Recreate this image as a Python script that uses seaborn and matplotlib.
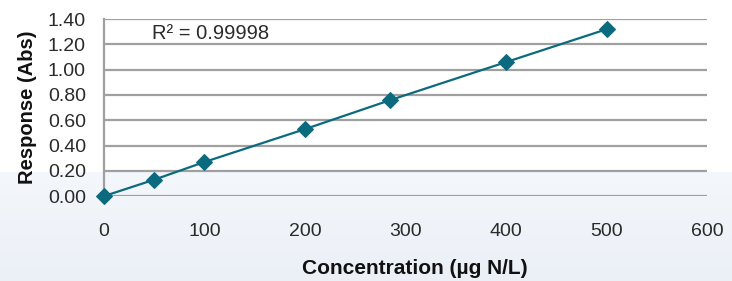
import matplotlib
matplotlib.use("Agg")
import matplotlib.pyplot as plt
import seaborn as sns
import pandas as pd
import numpy as np
from matplotlib.colors import LinearSegmentedColormap

concentration = [0, 50, 100, 200, 285, 400, 500]
response = [0.00, 0.13, 0.27, 0.53, 0.76, 1.06, 1.32]
x_ticks = [0, 100, 200, 300, 400, 500, 600]
y_ticks = [0.00, 0.20, 0.40, 0.60, 0.80, 1.00, 1.20, 1.40]
r2_text = "R² = 0.99998"

sns.set_theme(style="white")
plt.rcParams['font.family'] = ['Liberation Sans', 'DejaVu Sans']

df = pd.DataFrame({"Concentration": concentration, "Response": response})

fig = plt.figure(figsize=(7.32, 2.81), dpi=100)
fig.patch.set_facecolor("white")

# light bluish gradient band at the bottom
bg = fig.add_axes([0, 0, 1, 0.388], zorder=-5)
cmap = LinearSegmentedColormap.from_list("band", ["#ebf0f7", "#f4f7fb"])
bg.imshow(np.linspace(0, 1, 100).reshape(-1, 1), aspect="auto", cmap=cmap,
          origin="lower", extent=[0, 1, 0, 1])
bg.set_axis_off()

ax = fig.add_axes([0.142, 0.302, 0.824, 0.630], zorder=1)
ax.set_facecolor("none")
teal = "#0b6a7e"
sns.lineplot(data=df, x="Concentration", y="Response", ax=ax, color=teal,
             linewidth=1.6, marker="D", markersize=8.5, markeredgecolor=teal,
             clip_on=False, zorder=5)

ax.set_xlim(0, 600)
ax.set_ylim(0, 1.40)
ax.set_xticks(x_ticks)
ax.set_yticks(y_ticks)
ax.set_xticklabels([str(v) for v in x_ticks])
ax.set_yticklabels([f"{v:.2f}" for v in y_ticks])
ax.yaxis.grid(True, color="#a0a0a0", linewidth=1.6)
ax.xaxis.grid(False)
for s in ["top", "right", "bottom"]:
    ax.spines[s].set_visible(False)
ax.spines["left"].set_color("#a0a0a0")
ax.spines["left"].set_linewidth(1.6)
ax.tick_params(axis="both", length=0, labelsize=14, colors="#2a2a2a")
ax.tick_params(axis="x", pad=19)
ax.tick_params(axis="y", pad=13)

ax.set_xlabel("Concentration (µg N/L)", fontsize=15, fontweight="bold", color="#111111")
ax.xaxis.set_label_coords(0.516, -0.355)
ax.set_ylabel("Response (Abs)", fontsize=14.5, fontweight="bold", labelpad=8, color="#111111")

ax.text(48, 1.29, r2_text, fontsize=14.5, color="#2a2a2a", va="center", ha="left")

fig.savefig("out.png", dpi=100)
